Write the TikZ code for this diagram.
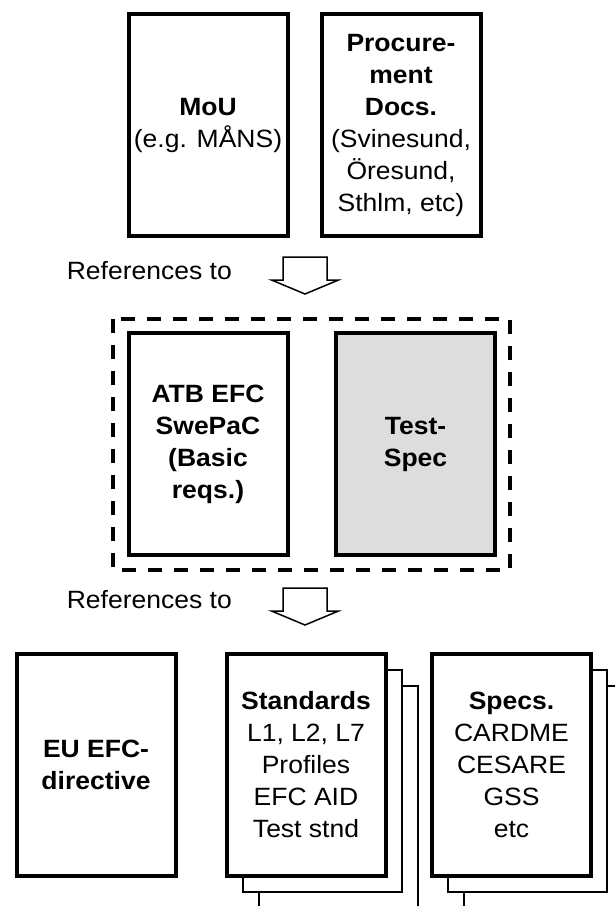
\documentclass[tikz,border=0pt]{standalone}
\usepackage{fontspec}
\setmainfont{Liberation Sans}[FakeStretch=1.06]
\usetikzlibrary{shadows}
\definecolor{specgray}{HTML}{DDDDDD}
\tikzset {>=stealth}
\tikzset {
  doc/.style={draw,line width=4pt,fill=white,minimum width=159pt,minimum height=222pt,
    inner sep=0pt,align=center,font=\fontsize{25}{32}\selectfont},
  bfdoc/.style={doc,font=\fontsize{25}{32}\selectfont\bfseries},
  pile/.style={copy shadow={shadow xshift=32pt,shadow yshift=-32pt,line width=2pt},
    copy shadow={shadow xshift=16pt,shadow yshift=-16pt,line width=2pt}},
  refarrow/.style={draw,line width=1.5pt,line join=miter},
  reftext/.style={anchor=east,inner sep=0pt,font=\fontsize{25}{32}\selectfont},
  groupframe/.style={draw,line width=4pt,dash pattern=on 14pt off 12pt}
}

\begin{document}
\begin{tikzpicture}[x=1pt,y=-1pt]
\useasboundingbox (0,0) rectangle (615,906);
\clip (0,0) rectangle (615,906);
\node[doc] (mou) at (208,125) {\textbf{MoU}\\(e.g. MÅNS)};
\node[doc] (proc) at (401,125) {\textbf{Procure-}\\\textbf{ment}\\\textbf{Docs.}\\(Svinesund,\\Öresund,\\Sthlm, etc)};
\coordinate (arr1) at (305,257);
\draw[refarrow] (arr1) ++(-22,0) -- ++(44,0) -- ++(0,23) -- ++(11.5,0) -- ++(-33.5,14)
  -- ++(-33.5,-14) -- ++(11.5,0) -- cycle;
\node[reftext] (ref1) at (232,271) {References to};
\draw[groupframe] (113,319) rectangle (510,570);
\node[bfdoc] (atb) at (208,444) {ATB EFC\\SwePaC\\(Basic\\reqs.)};
\node[bfdoc,fill=specgray] (test) at (415.5,444) {Test-\\Spec};
\coordinate (arr2) at (305,588);
\draw[refarrow] (arr2) ++(-22,0) -- ++(44,0) -- ++(0,23) -- ++(11.5,0) -- ++(-33.5,14)
  -- ++(-33.5,-14) -- ++(11.5,0) -- cycle;
\node[reftext] (ref2) at (232,600) {References to};
\node[bfdoc] (eu) at (96,764.5) {EU EFC-\\directive};
\node[doc,pile] (std) at (306,764.5) {\textbf{Standards}\\L1, L2, L7\\Profiles\\EFC AID\\Test stnd};
\node[doc,pile] (spec) at (511.5,764.5) {\textbf{Specs.}\\CARDME\\CESARE\\GSS\\etc};
\end{tikzpicture}
\end{document}
